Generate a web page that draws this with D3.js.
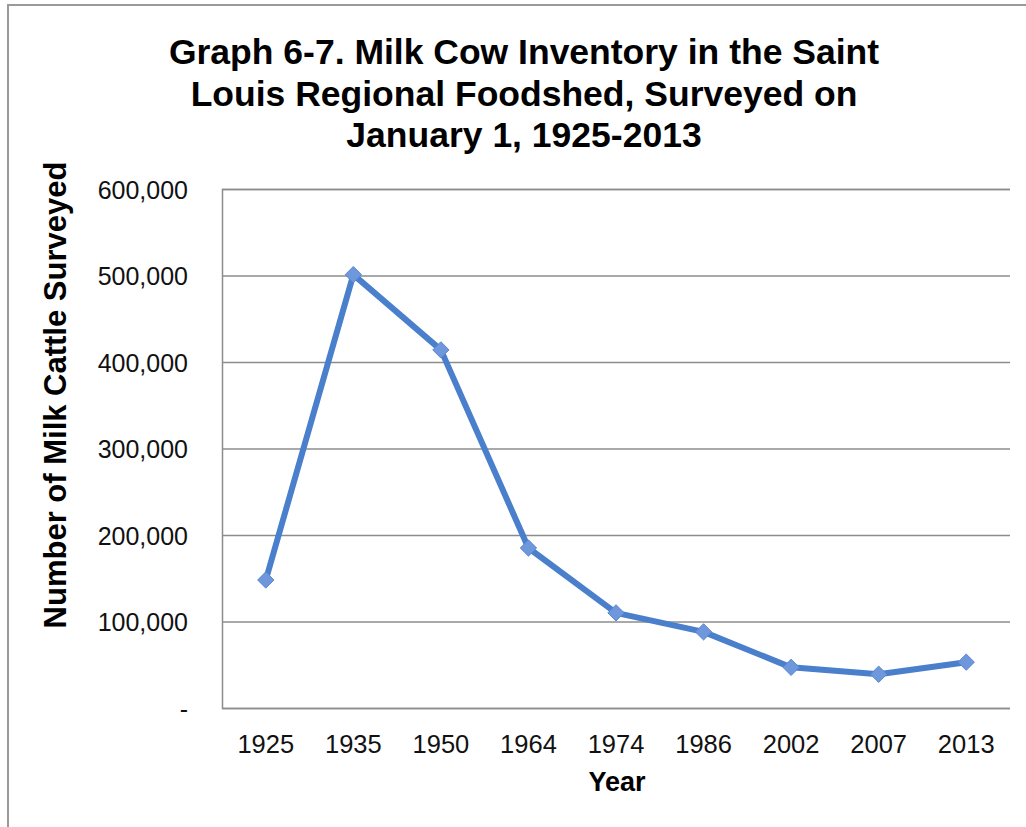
<!DOCTYPE html>
<html>
<head>
<meta charset="utf-8">
<script src="https://cdn.jsdelivr.net/npm/d3@7"></script>
<style>
  html, body { margin: 0; padding: 0; background: #fff; }
  svg { display: block; }
</style>
</head>
<body>
<svg id="chart" width="1026" height="827"></svg>
<script>
// Survey years (categories) and milk cow counts on January 1
const years = ["1925", "1935", "1950", "1964", "1974", "1986", "2002", "2007", "2013"];
const milkCows = [148000, 501000, 414000, 185000, 110000, 88000, 47000, 39000, 53000];
const yTicks = [0, 100000, 200000, 300000, 400000, 500000, 600000];
const titleLines = [
  "Graph 6-7. Milk Cow Inventory in the Saint",
  "Louis Regional Foodshed, Surveyed on",
  "January 1, 1925-2013"
];

const svg = d3.select("#chart");
const W = 1026, H = 827;
const margin = { top: 189, right: 16, bottom: 119, left: 222 };
const plotW = W - margin.left - margin.right;
const plotH = H - margin.top - margin.bottom;
const font = "'Liberation Sans', Arial, sans-serif";

// outer frame
svg.append("path")
  .attr("d", `M8,${H} L8,5 L${W},5`)
  .attr("fill", "none")
  .attr("stroke", "#9a9a9a")
  .attr("stroke-width", 2);

// title
svg.append("text")
  .attr("font-family", font)
  .attr("font-weight", "bold")
  .attr("font-size", 35.5)
  .attr("fill", "#000")
  .attr("text-anchor", "middle")
  .selectAll("tspan")
  .data(titleLines)
  .join("tspan")
  .attr("x", 524)
  .attr("y", (d, i) => 64 + i * 41.5)
  .text(d => d);

const g = svg.append("g").attr("transform", `translate(${margin.left},${margin.top})`);

const x = d3.scaleBand().domain(years).range([0, plotW]);
const y = d3.scaleLinear().domain([0, 600000]).range([plotH, 0]);

// horizontal gridlines
const yAxis = d3.axisLeft(y)
  .tickValues(yTicks)
  .tickSize(-plotW)
  .tickPadding(34)
  .tickFormat(d => d === 0 ? "-" : d3.format(",")(d));

const ya = g.append("g").call(yAxis);
ya.select(".domain").attr("stroke", "#8c8c8c").attr("stroke-width", 1.5);
ya.selectAll(".tick line").attr("stroke", "#8c8c8c").attr("stroke-width", 1.5);
ya.selectAll(".tick text")
  .attr("font-family", font)
  .attr("font-size", 25)
  .attr("fill", "#111")
  .attr("dy", "0.36em");

// x axis labels
const xAxis = d3.axisBottom(x).tickSize(0).tickPadding(27);
const xa = g.append("g").attr("transform", `translate(0,${plotH})`).call(xAxis);
xa.select(".domain").remove();
xa.selectAll(".tick text")
  .attr("font-family", font)
  .attr("font-size", 25.5)
  .attr("fill", "#111");

// axis titles
svg.append("text")
  .attr("x", 617)
  .attr("y", 791)
  .attr("text-anchor", "middle")
  .attr("font-family", font)
  .attr("font-weight", "bold")
  .attr("font-size", 27)
  .text("Year");

svg.append("text")
  .attr("transform", "translate(66,395) rotate(-90)")
  .attr("text-anchor", "middle")
  .attr("font-family", font)
  .attr("font-weight", "bold")
  .attr("font-size", 31)
  .text("Number of Milk Cattle Surveyed");

// data line
const pts = years.map((yr, i) => ({ yr, v: milkCows[i] }));
const line = d3.line()
  .x(d => x(d.yr) + x.bandwidth() / 2)
  .y(d => y(d.v));

g.append("path")
  .datum(pts)
  .attr("d", line)
  .attr("fill", "none")
  .attr("stroke", "#4a7fcc")
  .attr("stroke-width", 6)
  .attr("stroke-linejoin", "round");

// diamond markers
const diamond = d3.symbol().type(d3.symbolDiamond2).size(170);
g.selectAll("path.marker")
  .data(pts)
  .join("path")
  .attr("class", "marker")
  .attr("transform", d => `translate(${x(d.yr) + x.bandwidth() / 2},${y(d.v)})`)
  .attr("d", diamond)
  .attr("fill", "#6f98dc")
  .attr("stroke", "#5a87d0")
  .attr("stroke-width", 1);
</script>
</body>
</html>
